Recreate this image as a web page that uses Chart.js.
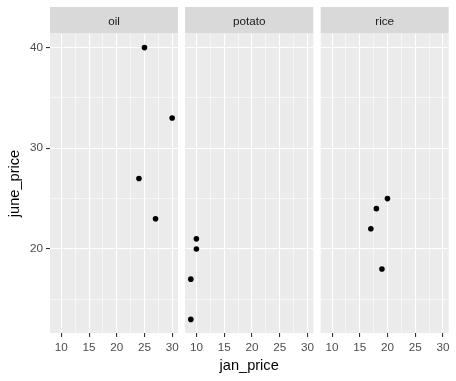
<!DOCTYPE html>
<html>
<head>
<meta charset="utf-8">
<script src="https://cdn.jsdelivr.net/npm/chart.js@4"></script>
<style>
  html, body { margin: 0; padding: 0; background: #fff; }
  #wrap { position: relative; width: 456px; height: 381px; overflow: hidden; }
  #wrap canvas { position: absolute; top: 0; }
</style>
</head>
<body>
<div id="wrap">
  <canvas id="c1" width="190" height="381" style="left:0px"></canvas>
  <canvas id="c2" width="153" height="381" style="left:173px"></canvas>
  <canvas id="c3" width="148" height="381" style="left:308px"></canvas>
</div>
<script>
// facet names
const categories = ['oil', 'potato', 'rice'];

// jan_price / june_price per facet
const oilJan = [25, 30, 24, 27];
const oilJune = [40, 33, 27, 23];
const potatoJan = [10, 10, 9, 9];
const potatoJune = [21, 20, 17, 13];
const riceJan = [20, 18, 17, 19];
const riceJune = [25, 24, 22, 18];

// axes
const xTicks = [10, 15, 20, 25, 30];
const yTicks = [20, 30, 40];
const xMinor = [12.5, 17.5, 22.5, 27.5];
const yMinor = [15, 25, 35];
const xRange = [7.95, 31.05];
const yRange = [11.65, 41.35];

const FONT = '"Liberation Sans", Arial, sans-serif';

// grey panel background + facet strip
const facetPanel = {
    id: 'facetPanel',
    beforeDraw(chart, args, opts) {
        const { ctx, chartArea: a } = chart;
        ctx.save();
        ctx.fillStyle = '#EBEBEB';
        ctx.fillRect(a.left, a.top, a.right - a.left, a.bottom - a.top);
        ctx.fillStyle = '#D9D9D9';
        ctx.fillRect(a.left, 7, a.right - a.left, a.top - 7.5);
        ctx.fillStyle = '#1A1A1A';
        ctx.font = '11.7px ' + FONT;
        ctx.textAlign = 'center';
        ctx.textBaseline = 'middle';
        ctx.fillText(opts.label, (a.left + a.right) / 2, (7 + a.top) / 2 + 1.5);
        ctx.restore();
    }
};

function isMajor(list, v) {
    return list.some(t => Math.abs(t - v) < 1e-6);
}

function makeFacet(canvasId, label, xs, ys, opt) {
    const ctx = document.getElementById(canvasId).getContext('2d');
    return new Chart(ctx, {
        type: 'scatter',
        data: {
            datasets: [{
                data: xs.map((x, i) => ({ x: x, y: ys[i] })),
                backgroundColor: '#000',
                borderColor: '#000',
                pointRadius: 2.8,
                borderWidth: 0
            }]
        },
        options: {
            responsive: false,
            animation: false,
            devicePixelRatio: 1,
            layout: { padding: { top: 34, bottom: 0, left: opt.padLeft, right: opt.padRight } },
            plugins: {
                legend: { display: false },
                tooltip: { enabled: false },
                facetPanel: { label: label }
            },
            scales: {
                x: {
                    type: 'linear',
                    min: xRange[0],
                    max: xRange[1],
                    afterBuildTicks: axis => {
                        axis.ticks = xTicks.concat(xMinor).sort((a, b) => a - b).map(v => ({ value: v }));
                    },
                    afterFit: axis => { axis.height = 48; },
                    border: { display: false },
                    grid: {
                        color: '#FFFFFF',
                        lineWidth: c => isMajor(xTicks, c.tick.value) ? 1.1 : 0.55,
                        tickColor: c => isMajor(xTicks, c.tick.value) ? '#333333' : 'rgba(0,0,0,0)',
                        tickLength: 4,
                        tickWidth: 1.1
                    },
                    ticks: {
                        autoSkip: false,
                        maxRotation: 0,
                        padding: 4,
                        color: '#4D4D4D',
                        font: { family: FONT, size: 11.7 },
                        callback: v => isMajor(xTicks, v) ? String(v) : ''
                    },
                    title: {
                        display: opt.xTitle,
                        text: 'jan_price',
                        color: '#000',
                        font: { family: FONT, size: 14.6 },
                        padding: { top: 0, bottom: 6 }
                    }
                },
                y: {
                    type: 'linear',
                    min: yRange[0],
                    max: yRange[1],
                    afterBuildTicks: axis => {
                        axis.ticks = yTicks.concat(yMinor).sort((a, b) => a - b).map(v => ({ value: v }));
                    },
                    afterFit: axis => { axis.width = opt.yAxis ? 50 : 0; },
                    border: { display: false },
                    grid: {
                        color: '#FFFFFF',
                        lineWidth: c => isMajor(yTicks, c.tick.value) ? 1.1 : 0.55,
                        drawTicks: opt.yAxis,
                        tickColor: c => isMajor(yTicks, c.tick.value) ? '#333333' : 'rgba(0,0,0,0)',
                        tickLength: 4,
                        tickWidth: 1.1
                    },
                    ticks: {
                        display: opt.yAxis,
                        autoSkip: false,
                        padding: 3,
                        color: '#4D4D4D',
                        font: { family: FONT, size: 11.7 },
                        callback: v => isMajor(yTicks, v) ? String(v) : ''
                    },
                    title: {
                        display: opt.yAxis,
                        text: 'june_price',
                        color: '#000',
                        font: { family: FONT, size: 14.6 },
                        padding: { top: 6, bottom: 0 }
                    }
                }
            }
        },
        plugins: [facetPanel]
    });
}

makeFacet('c1', categories[0], oilJan, oilJune, { padLeft: 0, padRight: 12, yAxis: true, xTitle: false });
makeFacet('c2', categories[1], potatoJan, potatoJune, { padLeft: 12, padRight: 12.7, yAxis: false, xTitle: true });
makeFacet('c3', categories[2], riceJan, riceJune, { padLeft: 12.7, padRight: 7.3, yAxis: false, xTitle: false });
</script>
</body>
</html>
